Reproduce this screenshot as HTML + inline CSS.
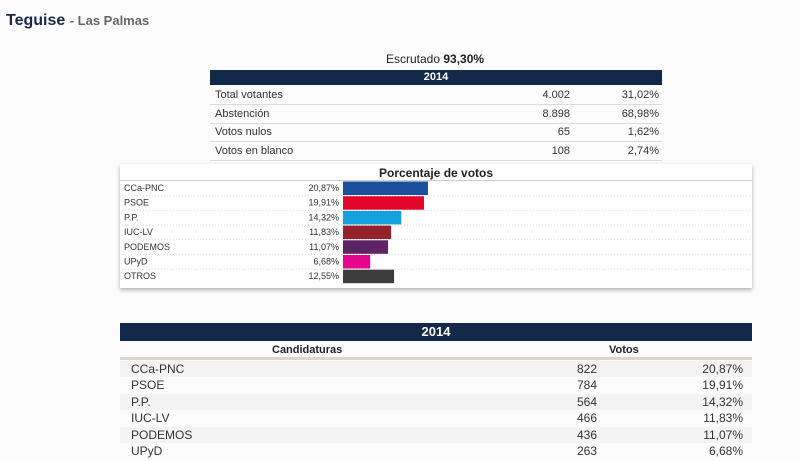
<!DOCTYPE html>
<html><head><meta charset="utf-8"><style>
body{margin:0;width:800px;height:461px;background:#fcfcfc;font-family:"Liberation Sans",sans-serif;position:relative;overflow:hidden;color:#333}
.a{position:absolute;white-space:nowrap}
.row{position:absolute;left:210px;width:452px;height:18px;border-bottom:1px solid #dcdcdc;font-size:11px;color:#333}
.row span{position:absolute;top:3px}
.brow{position:absolute;left:120px;width:632px;height:16px;font-size:12px;color:#333}
.brow span{position:absolute;top:1px}
</style></head><body>
<div class="a" style="left:6px;top:12px;font-size:16px;font-weight:bold;color:#1a2a45">Teguise <span style="font-size:13px;color:#666">- Las Palmas</span></div>
<div class="a" style="left:386px;top:52px;font-size:12px;color:#222">Escrutado <b>93,30%</b></div>
<div class="a" style="left:210px;top:70px;width:452px;height:15px;background:#13294a;color:#fff;font-size:11px;font-weight:bold;text-align:center;line-height:15px">2014</div>
<div id="summary"></div>
<div class="a" style="left:120px;top:164px;width:632px;height:124px;background:#fff;box-shadow:0 2px 4px rgba(0,0,0,.3)"></div>
<div class="a" style="left:379px;top:166px;font-size:12px;font-weight:bold;color:#222">Porcentaje de votos</div>
<div class="a" style="left:120px;top:180px;width:632px;height:1px;background:#ccc"></div>
<svg id="chart" class="a" style="left:0;top:0" width="800" height="461"></svg>
<div class="a" style="left:120px;top:323px;width:632px;height:18px;background:#13294a;color:#fff;font-size:13px;font-weight:bold;text-align:center;line-height:18px">2014</div>
<div class="a" style="left:272px;top:344px;font-size:11px;font-weight:bold;color:#222">Candidaturas</div>
<div class="a" style="left:609px;top:344px;font-size:11px;font-weight:bold;color:#222">Votos</div>
<div class="a" style="left:120px;top:357px;width:632px;height:3px;background:#ddd6c8"></div>
<div id="results"></div>
<script>
const sumLabels=["Total votantes","Abstención","Votos nulos","Votos en blanco"];
const sumVals=["4.002","8.898","65","108"];
const sumPcts=["31,02%","68,98%","1,62%","2,74%"];
const parties=["CCa-PNC","PSOE","P.P.","IUC-LV","PODEMOS","UPyD","OTROS"];
const pcts=[20.87,19.91,14.32,11.83,11.07,6.68,12.55];
const votes=[822,784,564,466,436,263];
const colors=["#1a4f9c","#e4062a","#15a0e0","#93222a","#5c2462","#e5068c","#3c3c3c"];
const fmt=v=>v.toFixed(2).replace('.',',')+'%';
const S=document.getElementById('summary');
sumLabels.forEach((l,i)=>{const d=document.createElement('div');d.className='row';


d.style.top=(86+i*18.5)+'px';
d.innerHTML=`<span style="left:5px">${l}</span><span style="right:92px">${sumVals[i]}</span><span style="right:3px">${sumPcts[i]}</span>`;S.appendChild(d);});
const svg=document.getElementById('chart');const NS='http://www.w3.org/2000/svg';
const x=v=>343+v*4.07, y0=181, rh=14.7;
parties.forEach((p,i)=>{const cy=y0+i*rh;
 const t=document.createElementNS(NS,'text');t.setAttribute('x',124);t.setAttribute('y',cy+10);t.setAttribute('font-size','9');t.setAttribute('fill','#333');t.textContent=p;
 
 svg.appendChild(t);
 const v=document.createElementNS(NS,'text');v.setAttribute('x',339);v.setAttribute('y',cy+10);v.setAttribute('font-size','9');v.setAttribute('fill','#333');v.setAttribute('text-anchor','end');v.textContent=fmt(pcts[i]);
 
 svg.appendChild(v);
 const r=document.createElementNS(NS,'rect');r.setAttribute('x',343);r.setAttribute('y',cy+0.5);r.setAttribute('width',x(pcts[i])-343);r.setAttribute('height',13.5);r.setAttribute('fill',colors[i]);
 
 svg.appendChild(r);
 if(i<parties.length-1){const l=document.createElementNS(NS,'line');l.setAttribute('x1',122);l.setAttribute('x2',750);l.setAttribute('y1',cy+rh);l.setAttribute('y2',cy+rh);l.setAttribute('stroke','#ddd');l.setAttribute('stroke-dasharray','1,2');
 
 svg.insertBefore(l,svg.firstChild);}
});
const R=document.getElementById('results');
votes.forEach((v,i)=>{const d=document.createElement('div');d.className='brow';


d.style.top=(361+i*16.4)+'px';d.style.background=i%2?'#fcfcfc':'#f3f3f3';
d.innerHTML=`<span style="left:11px">${parties[i]}</span><span style="right:155px">${v}</span><span style="right:9px">${fmt(pcts[i])}</span>`;R.appendChild(d);});
</script>
</body></html>
